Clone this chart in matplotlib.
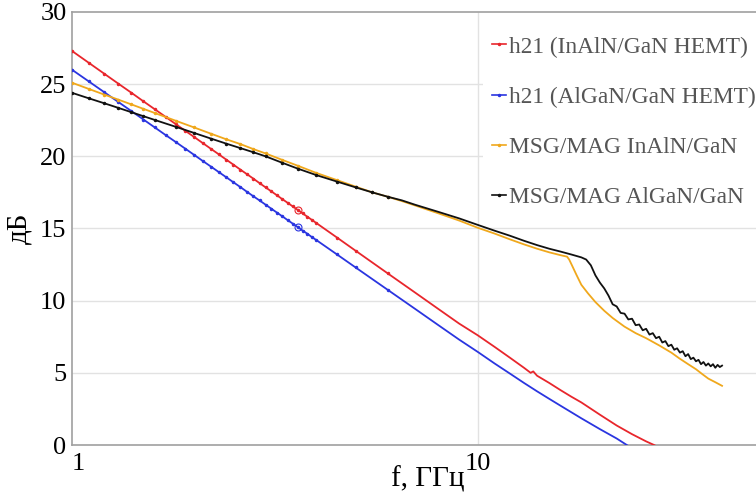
import numpy as np
import matplotlib
matplotlib.use('Agg')
import matplotlib.pyplot as plt

plt.rcParams['font.family'] = 'serif'
plt.rcParams['font.serif'] = ['Liberation Serif', 'Times New Roman', 'DejaVu Serif']

# h21, InAlN/GaN HEMT
f_h21_inaln = [1.0, 1.1, 1.2, 1.3, 1.4, 1.5, 1.6, 1.7, 1.8, 1.9, 2.0, 2.1, 2.2, 2.3, 2.4, 2.5,
               2.6, 2.7, 2.8, 2.9, 3.0, 3.1, 3.2, 3.3, 3.4, 3.5, 3.6, 3.7, 3.8, 3.9, 4.0,
               4.5, 5.0, 6.0, 7.0, 8.0, 9.0, 10.0, 11.0, 12.0, 13.0, 13.5, 13.7, 14.0, 15.0,
               16.0, 17.0, 18.0, 20.0, 22.0, 24.0, 26.0, 27.2, 28.0]
h21_inaln = [27.30, 26.48, 25.73, 25.04, 24.41, 23.81, 23.26, 22.74, 22.24, 21.78, 21.34, 20.92,
             20.52, 20.14, 19.77, 19.42, 19.08, 18.76, 18.45, 18.14, 17.85, 17.57, 17.30, 17.03,
             16.78, 16.53, 16.29, 16.05, 15.82, 15.60, 15.38,
             14.37, 13.46, 11.89, 10.57, 9.42, 8.41, 7.60, 6.80, 6.05, 5.35, 5.00, 5.10, 4.80, 4.30,
             3.80, 3.35, 2.95, 2.10, 1.35, 0.75, 0.25, 0.0, -0.2]

# h21, AlGaN/GaN HEMT
f_h21_algan = [1.0, 1.1, 1.2, 1.3, 1.4, 1.5, 1.6, 1.7, 1.8, 1.9, 2.0, 2.1, 2.2, 2.3, 2.4, 2.5,
               2.6, 2.7, 2.8, 2.9, 3.0, 3.1, 3.2, 3.3, 3.4, 3.5, 3.6, 3.7, 3.8, 3.9, 4.0,
               4.5, 5.0, 6.0, 7.0, 8.0, 9.0, 10.0, 11.0, 12.0, 13.0, 14.0, 15.0, 16.0,
               18.0, 20.0, 22.0, 23.3, 24.0]
h21_algan = [26.00, 25.19, 24.45, 23.77, 23.14, 22.55, 22.00, 21.48, 21.00, 20.54, 20.10, 19.68,
             19.29, 18.91, 18.55, 18.20, 17.87, 17.54, 17.23, 16.94, 16.65, 16.37, 16.10, 15.84,
             15.58, 15.34, 15.10, 14.86, 14.64, 14.41, 14.20,
             13.20, 12.30, 10.75, 9.44, 8.30, 7.30, 6.45, 5.65, 4.95, 4.30, 3.72, 3.20, 2.72,
             1.85, 1.10, 0.45, 0.0, -0.25]

# MSG/MAG, InAlN/GaN
f_msg_inaln = [1.0, 1.1, 1.2, 1.3, 1.4, 1.5, 1.6, 1.8, 2.0, 2.2, 2.4, 2.6, 2.8, 3.0, 3.3, 3.6,
               4.0, 4.5, 5.0, 5.5, 6.0, 6.5, 7.0, 8.0, 9.0, 10.0, 11.0, 12.0, 13.0, 14.0, 15.0,
               16.0, 16.6, 16.8, 17.1, 17.5, 18.0, 18.7, 19.5, 20.5, 21.5, 23.0, 24.5, 26.0,
               28.0, 30.0, 31.4, 33.0, 34.5, 35.8, 37.0, 38.5, 40.0]
msg_inaln = [25.10, 24.67, 24.28, 23.93, 23.60, 23.29, 23.00, 22.47, 22.00, 21.57, 21.18, 20.85,
             20.50, 20.20, 19.75, 19.35, 18.85, 18.35, 17.90, 17.50, 17.20, 16.90, 16.60, 16.05,
             15.55, 15.05, 14.65, 14.25, 13.90, 13.60, 13.35, 13.15, 13.05, 12.85, 12.40, 11.80,
             11.10, 10.50, 9.90, 9.30, 8.80, 8.20, 7.75, 7.40, 6.90, 6.40, 6.00, 5.60, 5.25,
             4.90, 4.60, 4.35, 4.10]

# MSG/MAG, AlGaN/GaN
f_msg_algan = [1.0, 1.1, 1.2, 1.3, 1.4, 1.5, 1.6, 1.8, 2.0, 2.2, 2.4, 2.6, 2.8, 3.0, 3.3, 3.6,
               4.0, 4.5, 5.0, 5.5, 6.0, 6.5, 7.0, 8.0, 9.0, 10.0, 11.0, 12.0, 13.0, 14.0, 15.0,
               16.0, 17.0, 18.0, 18.5, 19.0, 19.5, 20.0, 20.5, 21.0, 21.5, 22.0, 22.5, 23.0,
               23.5, 24.0, 24.5, 25.0, 25.5, 26.0, 26.5, 27.0, 27.5, 28.0, 28.5, 29.0, 29.5,
               30.0, 30.5, 31.0, 31.5, 32.0, 32.5, 33.0, 33.5, 34.0, 34.5, 35.0, 35.5, 36.0,
               36.5, 37.0, 37.5, 38.0, 38.5, 39.0, 39.5, 40.0]
msg_algan = [24.40, 24.02, 23.68, 23.36, 23.06, 22.78, 22.52, 22.05, 21.62, 21.23, 20.88, 20.57,
             20.28, 20.00, 19.55, 19.15, 18.70, 18.25, 17.85, 17.50, 17.20, 16.95, 16.65, 16.15,
             15.70, 15.25, 14.85, 14.50, 14.15, 13.85, 13.60, 13.40, 13.20, 13.00, 12.85,
             12.45, 11.75, 11.25, 10.85, 10.35, 9.75, 9.60, 9.15, 9.10, 8.70, 8.75, 8.30, 8.35,
             7.95, 8.05, 7.65, 7.75, 7.40, 7.50, 7.10, 7.20, 6.85, 6.95, 6.60, 6.70, 6.40, 6.50,
             6.15, 6.30, 5.95, 6.05, 5.80, 5.90, 5.60, 5.75, 5.50, 5.65, 5.45, 5.60, 5.35, 5.55,
             5.40, 5.50]

labels = ['h21 (InAlN/GaN HEMT)', 'h21 (AlGaN/GaN HEMT)',
          'MSG/MAG InAlN/GaN', 'MSG/MAG AlGaN/GaN']
colors = ['#e8262c', '#2a35e0', '#f0a81c', '#111111']
series = [(f_h21_inaln, h21_inaln), (f_h21_algan, h21_algan),
          (f_msg_inaln, msg_inaln), (f_msg_algan, msg_algan)]

fig = plt.figure(figsize=(7.56, 4.94), dpi=100)
ax = fig.add_axes([72/756, 1 - 445/494, 1 - 72/756, 433/494])

for (f, v), c, lab in zip(series, colors, labels):
    f = np.array(f)
    ax.plot(f, v, color=c, lw=1.3, marker='.', ms=3, markevery=list(f <= 6.0),
            label=lab, zorder=3)

# marker points at 3.6 GHz on both h21 curves
i_m = f_h21_inaln.index(3.6)
ax.plot(f_h21_inaln[i_m], h21_inaln[i_m], 'o', mfc='none', mec=colors[0], ms=5, mew=0.8, zorder=4)
i_m = f_h21_algan.index(3.6)
ax.plot(f_h21_algan[i_m], h21_algan[i_m], 'o', mfc='none', mec=colors[1], ms=5, mew=0.8, zorder=4)

ax.set_xscale('log')
ax.set_xlim(1, 48.5)
ax.set_ylim(0, 30)
ax.set_xticks([1, 10])
ax.set_xticklabels(['1', '10'])
ax.get_xticklabels()[0].set_horizontalalignment('left')
ax.xaxis.set_minor_locator(matplotlib.ticker.NullLocator())
ax.set_yticks([0, 5, 10, 15, 20, 25, 30])
ax.tick_params(axis='both', length=0, labelsize=19)
ax.tick_params(axis='x', pad=6)
ax.tick_params(axis='y', pad=4)

for y in [5, 10, 15, 20, 25]:
    ax.axhline(y, color='#e2e2e2', lw=1.0, zorder=0)
ax.axvline(10, color='#e2e2e2', lw=1.0, zorder=0)

for s in ['left', 'bottom', 'top']:
    ax.spines[s].set_color('#a0a0a0')
    ax.spines[s].set_linewidth(1.2)
ax.spines['right'].set_visible(False)

ax.set_xlabel('f, ГГц', fontsize=21)
ax.xaxis.set_label_coords(0.52, -0.048)
ax.set_ylabel('дБ', fontsize=21)
ax.yaxis.set_label_coords(-0.058, 0.5)

leg = ax.legend(loc='upper left', bbox_to_anchor=(483/756, 1 - 27/494),
                bbox_transform=fig.transFigure, borderaxespad=0, fontsize=16.8,
                frameon=True, facecolor='white', edgecolor='none', framealpha=1.0,
                handlelength=0.6, handletextpad=0.1, labelspacing=1.24,
                borderpad=0.4, fancybox=False)
for t in leg.get_texts():
    t.set_color('#555555')
for h in leg.get_lines():
    h.set_linewidth(1.2)

plt.savefig('out.png', dpi=100)
